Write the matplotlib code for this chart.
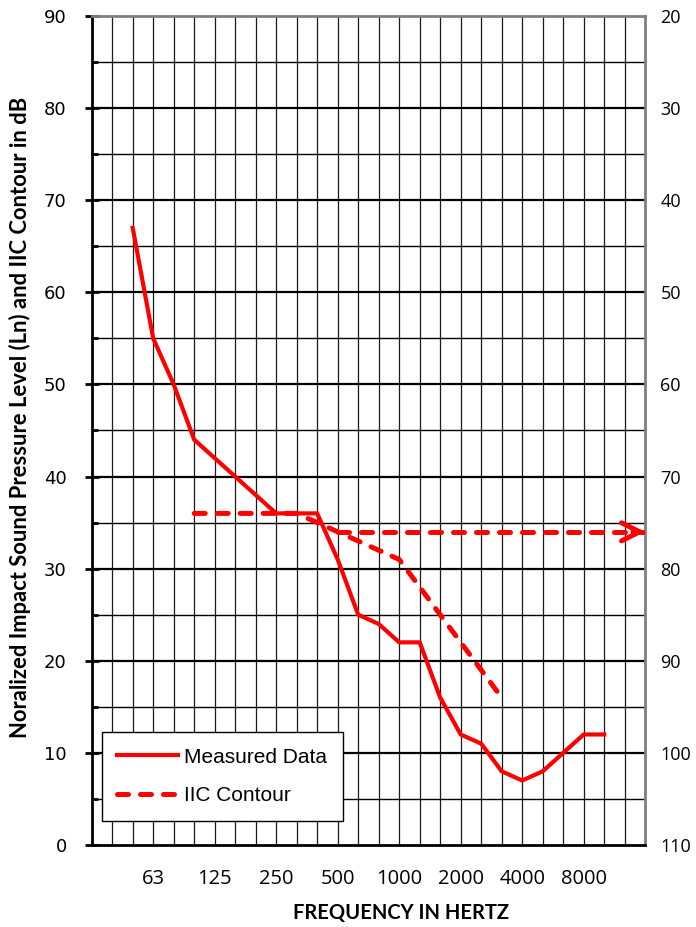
import matplotlib
matplotlib.use("Agg")
import matplotlib.pyplot as plt
from matplotlib.ticker import MultipleLocator

# ---------------- data ----------------
bands = ['31.5', '40', '50', '63', '80', '100', '125', '160', '200', '250', '315',
         '400', '500', '630', '800', '1000', '1250', '1600', '2000', '2500', '3150',
         '4000', '5000', '6300', '8000', '10000', '12500', '16000']
tick_labels = ['63', '125', '250', '500', '1000', '2000', '4000', '8000']

measured_bands = ['50', '63', '80', '100', '125', '160', '200', '250', '315', '400',
                  '500', '630', '800', '1000', '1250', '1600', '2000', '2500', '3150',
                  '4000', '5000', '6300', '8000', '10000']
measured_values = [67, 55, 50, 44, 42, 40, 38, 36, 36, 36, 31, 25, 24, 22, 22, 16, 12,
                   11, 8, 7, 8, 10, 12, 12]

contour_bands = ['100', '125', '160', '200', '250', '315', '400', '500', '630', '800',
                 '1000', '1250', '1600', '2000', '2500', '3150']
contour_values = [36, 36, 36, 36, 36, 36, 35, 34, 33, 32, 31, 28, 25, 22, 19, 16]
rating_band = '500'

left_ticks = [0, 10, 20, 30, 40, 50, 60, 70, 80, 90]
right_ticks = [20, 30, 40, 50, 60, 70, 80, 90, 100, 110]

# ---------------- figure ----------------
plt.rcParams['font.family'] = ['Open Sans', 'DejaVu Sans']
RED = '#FF0000'
DASH = (2.2, 2.4)
fig = plt.figure(figsize=(6.96, 9.27), dpi=100)
ax = fig.add_axes([91.7 / 696, 82 / 927, 553.5 / 696, 829 / 927])

idx = {b: i for i, b in enumerate(bands)}
mx = [idx[b] for b in measured_bands]
cx = [idx[b] for b in contour_bands]

ax.set_xlim(0, len(bands) - 1)
ax.set_ylim(0, 90)

# ticks and grid
ax.set_xticks([idx[t] for t in tick_labels])
ax.set_xticklabels(tick_labels, fontfamily='Open Sans', fontsize=14.5)
ax.set_yticks(left_ticks)
ax.set_yticklabels([str(v) for v in left_ticks], fontfamily='DejaVu Sans', fontsize=13)
ax.yaxis.set_minor_locator(MultipleLocator(5))
ax.grid(False)
for i in range(1, len(bands) - 1):
    ax.axvline(i, color='#1a1a1a', lw=0.9, zorder=1)
for v in range(5, 90, 5):
    ax.axhline(v, color='black', lw=1.6 if v % 10 == 0 else 1.0, zorder=1)

ax.tick_params(axis='x', which='both', length=0, pad=17)
ax.tick_params(axis='y', which='major', direction='inout', length=10, width=2, pad=13)
ax.tick_params(axis='y', which='minor', direction='in', length=4, width=2)

for s in ['left', 'bottom']:
    ax.spines[s].set_color('black')
    ax.spines[s].set_linewidth(2)
for s in ['top', 'right']:
    ax.spines[s].set_color('#7f7f7f')
    ax.spines[s].set_linewidth(2)

# series
ax.plot(mx, measured_values, color=RED, lw=3, solid_joinstyle='miter',
        zorder=4, label='Measured Data')
ax.plot(cx, contour_values, color=RED, lw=3.6, dashes=DASH,
        dash_capstyle='round', zorder=4, label='IIC Contour')

# IIC rating arrow
r_y = contour_values[contour_bands.index(rating_band)]
ax.plot([idx[rating_band], len(bands) - 1.1], [r_y, r_y], color=RED, lw=3.6,
        dashes=DASH, dash_capstyle='round', zorder=4)
ax.annotate('', xy=(len(bands) - 1, r_y), xytext=(len(bands) - 1.6, r_y),
            arrowprops=dict(arrowstyle='->,head_length=1.3,head_width=0.65',
                            color=RED, lw=3.6, capstyle='round',
                            joinstyle='round', shrinkA=0, shrinkB=0),
            zorder=5, annotation_clip=False)

# right axis
ax2 = ax.twinx()
ax2.set_ylim(110, 20)
ax2.set_yticks(right_ticks)
ax2.set_yticklabels([str(v) for v in right_ticks], fontfamily='Open Sans', fontsize=13)
ax2.tick_params(axis='y', length=0, pad=11)
for s in ax2.spines.values():
    s.set_visible(False)

# legend
leg = ax.legend(loc='lower left', bbox_to_anchor=(0.018, 0.029), borderaxespad=0,
                frameon=True, fancybox=False, framealpha=1, edgecolor='black',
                handlelength=2.9, handletextpad=0.3, labelspacing=0.95,
                borderpad=0.75, prop={'family': 'Liberation Sans', 'size': 15})
leg.get_frame().set_linewidth(1.0)
leg.set_zorder(6)

# axis titles
fig.text(401 / 696, 1 - 913 / 927, 'FREQUENCY IN HERTZ', ha='center', va='center',
         fontsize=14.5, fontweight='bold', family=['Lato', 'DejaVu Sans'])
fig.text(20 / 696, 1 - 417 / 927,
         'Noralized Impact Sound Pressure Level (Ln) and IIC Contour in dB',
         rotation=90, ha='center', va='center', fontsize=15.8, fontweight='bold',
         family=['Lato', 'DejaVu Sans'])

fig.savefig('out.png', dpi=100)
